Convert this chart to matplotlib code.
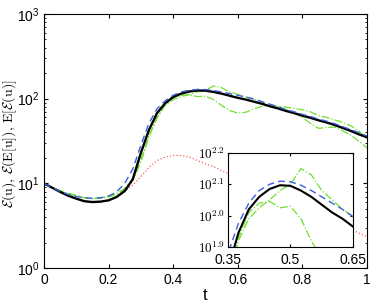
import numpy as np
import matplotlib
matplotlib.use("Agg")
import matplotlib.pyplot as plt
from matplotlib.ticker import FixedLocator, NullLocator, NullFormatter

plt.rcParams["font.family"] = ["Liberation Sans", "DejaVu Sans"]
plt.rcParams["mathtext.fontset"] = "cm"

t = [0.0, 0.025, 0.05, 0.075, 0.1, 0.125, 0.15, 0.175, 0.2, 0.225,
     0.25, 0.275, 0.3, 0.325, 0.35, 0.375, 0.4, 0.425, 0.45, 0.475,
     0.5, 0.525, 0.55, 0.575, 0.6, 0.625, 0.65, 0.675, 0.7, 0.725,
     0.75, 0.775, 0.8, 0.825, 0.85, 0.875, 0.9, 0.925, 0.95, 0.975, 1.0]

# log10 values
log_black = [1.0, 0.95, 0.90, 0.855, 0.82, 0.79, 0.78, 0.785, 0.80, 0.84,
             0.91, 1.05, 1.36, 1.63, 1.83, 1.945, 2.02, 2.06, 2.085, 2.097,
             2.095, 2.08, 2.06, 2.035, 2.01, 1.99, 1.965, 1.94, 1.91, 1.885,
             1.855, 1.83, 1.80, 1.775, 1.745, 1.72, 1.69, 1.655, 1.62, 1.58, 1.545]
log_blue = [1.0, 0.95, 0.905, 0.87, 0.845, 0.83, 0.825, 0.83, 0.85, 0.90,
            1.0, 1.17, 1.45, 1.71, 1.88, 1.975, 2.04, 2.08, 2.10, 2.11,
            2.108, 2.097, 2.08, 2.06, 2.04, 2.02, 1.997, 1.965, 1.935, 1.905,
            1.87, 1.845, 1.815, 1.79, 1.76, 1.735, 1.705, 1.67, 1.635, 1.60, 1.56]
log_red = [1.0, 0.95, 0.90, 0.855, 0.82, 0.79, 0.78, 0.785, 0.80, 0.84,
           0.91, 0.98, 1.08, 1.19, 1.27, 1.31, 1.33, 1.33, 1.31, 1.27,
           1.23, 1.20, 1.15, 1.11, 1.07, 1.025, 0.98, 0.935, 0.89, 0.845,
           0.80, 0.755, 0.71, 0.67, 0.63, 0.585, 0.54, 0.50, 0.46, 0.415, 0.37]
log_green_a = [1.0, 0.955, 0.915, 0.885, 0.86, 0.83, 0.82, 0.825, 0.84, 0.87,
               0.93, 1.03, 1.25, 1.55, 1.78, 1.93, 2.01, 2.04, 2.045, 2.025,
               2.03, 1.99, 1.92, 1.86, 1.83, 1.84, 1.88, 1.91, 1.915, 1.90,
               1.87, 1.83, 1.78, 1.71, 1.65, 1.66, 1.665, 1.62, 1.57, 1.50, 1.42]
log_green_b = [1.0, 0.95, 0.91, 0.875, 0.85, 0.83, 0.82, 0.83, 0.85, 0.88,
               0.94, 1.05, 1.28, 1.56, 1.77, 1.92, 1.99, 2.025, 2.05, 2.08,
               2.10, 2.15, 2.13, 2.08, 2.05, 2.02, 1.997, 1.96, 1.925, 1.91,
               1.90, 1.885, 1.87, 1.845, 1.80, 1.78, 1.75, 1.72, 1.68, 1.62, 1.53]

black = 10 ** np.array(log_black)
blue = 10 ** np.array(log_blue)
red = 10 ** np.array(log_red)
green_a = 10 ** np.array(log_green_a)
green_b = 10 ** np.array(log_green_b)

green = "#70e030"


def draw(ax, lw=1.7):
    ax.plot(t, red, color="#ff6060", linestyle=":", linewidth=0.9)
    ax.plot(t, green_a, color=green, linestyle="-.", linewidth=0.9)
    ax.plot(t, green_b, color=green, linestyle="-.", linewidth=0.9)
    ax.plot(t, black, color="black", linewidth=lw)
    ax.plot(t, blue, color="#3b5fe0", linestyle=(0, (5, 3)), linewidth=1.0)
    ax.set_yscale("log")
    ax.tick_params(which="both", direction="in", top=True, right=True)


fig = plt.figure(figsize=(3.74, 3.04), dpi=100)
ax = fig.add_axes([0.1176, 0.118, 0.8634, 0.836])
draw(ax)
ax.set_xlim(0, 1)
ax.set_ylim(1, 1000)
ax.set_xticks([0, 0.2, 0.4, 0.6, 0.8, 1])
ax.set_xticklabels(["0", "0.2", "0.4", "0.6", "0.8", "1"])
ax.tick_params(labelsize=10, length=3)
ax.tick_params(which="minor", length=1.5)
ax.set_xlabel("t", fontsize=12, labelpad=1)
ax.set_ylabel(r"$\mathcal{E}(\mathrm{u}),\,\mathcal{E}(\mathrm{E[u]}),\,\mathrm{E}[\mathcal{E}(\mathrm{u})]$",
              fontsize=10)
ax.yaxis.set_label_coords(-0.078, 0.49)

ins = fig.add_axes([0.6096, 0.1875, 0.3342, 0.3095])
draw(ins, lw=1.5)
ins.set_xlim(0.35, 0.65)
ins.set_ylim(10 ** 1.9, 10 ** 2.2)
ins.set_xticks([0.35, 0.5, 0.65])
ins.set_xticklabels(["0.35", "0.5", "0.65"])
ins.yaxis.set_major_locator(FixedLocator([10 ** 1.9, 10 ** 2.0, 10 ** 2.1, 10 ** 2.2]))
ins.yaxis.set_minor_locator(NullLocator())
ins.yaxis.set_minor_formatter(NullFormatter())
ins.set_yticklabels([r"$10^{1.9}$", r"$10^{2.0}$", r"$10^{2.1}$", r"$10^{2.2}$"])
ins.tick_params(axis="x", labelsize=10, length=2.5, pad=4.5)
ins.tick_params(axis="y", labelsize=9.5, length=2.5, pad=2)

fig.savefig("out.png", dpi=100)
